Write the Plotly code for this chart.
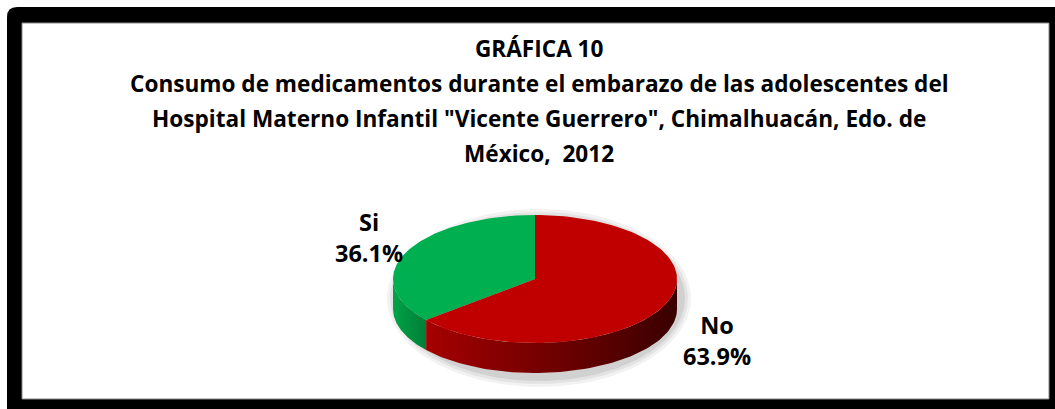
import numpy as np
import plotly.graph_objects as go

# Data
labels = ["Si", "No"]
values = [36.1, 63.9]
top_colors = ["#00B050", "#C00000"]
side_scales = [
    [[0, "#00a347"], [1, "#007d36"]],
    [[0, "#a50000"], [0.5, "#700000"], [1, "#3a0000"]],
]
title_lines = [
    "GRÁFICA 10",
    "Consumo de medicamentos durante el embarazo de las adolescentes del",
    "Hospital Materno Infantil \"Vicente Guerrero\", Chimalhuacán, Edo. de",
    "México,  2012",
]

W, H = 1055, 409
FONT = "Open Sans, sans-serif"

# Pie geometry (pixel units, y axis pointing down)
cx, cy, rx, ry, depth = 535, 279, 142, 64, 30


def rim(theta_deg, dy=0.0):
    t = np.radians(theta_deg)
    return cx + rx * np.sin(t), cy - ry * np.cos(t) + dy


fig = go.Figure()

# Soft shadow under the disc
for k, op in [(10, 0.05), (7, 0.06), (4, 0.08)]:
    th = np.linspace(0, 360, 181)
    t = np.radians(th)
    sx = cx + 4 + (rx + k) * np.sin(t)
    sy = cy + depth / 2 + 4 - (ry + depth / 2 + k) * np.cos(t)
    fig.add_trace(go.Scatter(x=sx, y=sy, mode="lines", fill="toself",
                             fillcolor=f"rgba(0,0,0,{op})", line=dict(width=0),
                             hoverinfo="skip", showlegend=False))

# Slice angles: first slice runs counter-clockwise from 12 o'clock
total = sum(values)
spans = [v / total * 360 for v in values]
ranges = [(360 - spans[0], 360), (0, spans[1])]

# Side walls (visible front half: 90..270 degrees)
for (a0, a1), cs in zip(ranges, side_scales):
    lo, hi = max(a0, 90), min(a1, 270)
    if hi <= lo:
        continue
    th = np.linspace(lo, hi, 80)
    x1, y1 = rim(th)
    x2, y2 = rim(th[::-1], depth)
    fig.add_trace(go.Scatter(
        x=np.concatenate([x1, x2, x1[:1]]), y=np.concatenate([y1, y2, y1[:1]]),
        mode="lines", fill="toself", line=dict(width=0),
        fillgradient=dict(type="horizontal", colorscale=cs),
        hoverinfo="skip", showlegend=False))

# Top faces
for (a0, a1), col, lab, v in zip(ranges, top_colors, labels, values):
    th = np.linspace(a0, a1, 120)
    x, y = rim(th)
    fig.add_trace(go.Scatter(
        x=np.concatenate([[cx], x, [cx]]), y=np.concatenate([[cy], y, [cy]]),
        mode="lines", fill="toself", fillcolor=col, line=dict(width=0),
        name=lab, text=f"{lab}: {v}%", hoverinfo="text", showlegend=False))

# Slice labels
label_pos = {"Si": (369, 237), "No": (717, 340)}
for lab, v in zip(labels, values):
    x, y = label_pos[lab]
    fig.add_annotation(x=x, y=y, xref="x", yref="y", showarrow=False,
                       text=f"{lab}<br>{v:.1f}%",
                       font=dict(family=FONT, size=23.5, color="black", weight="bold"))

# Title lines
for i, line in enumerate(title_lines):
    fig.add_annotation(x=539, y=48 + i * 35.3, xref="x", yref="y", showarrow=False,
                       text=line,
                       font=dict(family=FONT, size=22.6, color="black", weight="bold"))

# Frame
fig.add_shape(type="path", xref="x", yref="y", layer="below",
              path="M 7 17 Q 7 7 17 7 L 1060 7 L 1060 415 L 7 415 Z",
              fillcolor="black", line=dict(width=0))
fig.add_shape(type="rect", xref="x", yref="y", layer="below",
              x0=22, y0=23, x1=1049, y1=399, fillcolor="white",
              line=dict(color="#888888", width=1))

fig.update_layout(
    width=W, height=H, margin=dict(l=0, r=0, t=0, b=0),
    paper_bgcolor="white", plot_bgcolor="white",
    xaxis=dict(range=[0, W], visible=False, fixedrange=True),
    yaxis=dict(range=[H, 0], visible=False, fixedrange=True),
    showlegend=False,
)

fig.write_html("out.html")
